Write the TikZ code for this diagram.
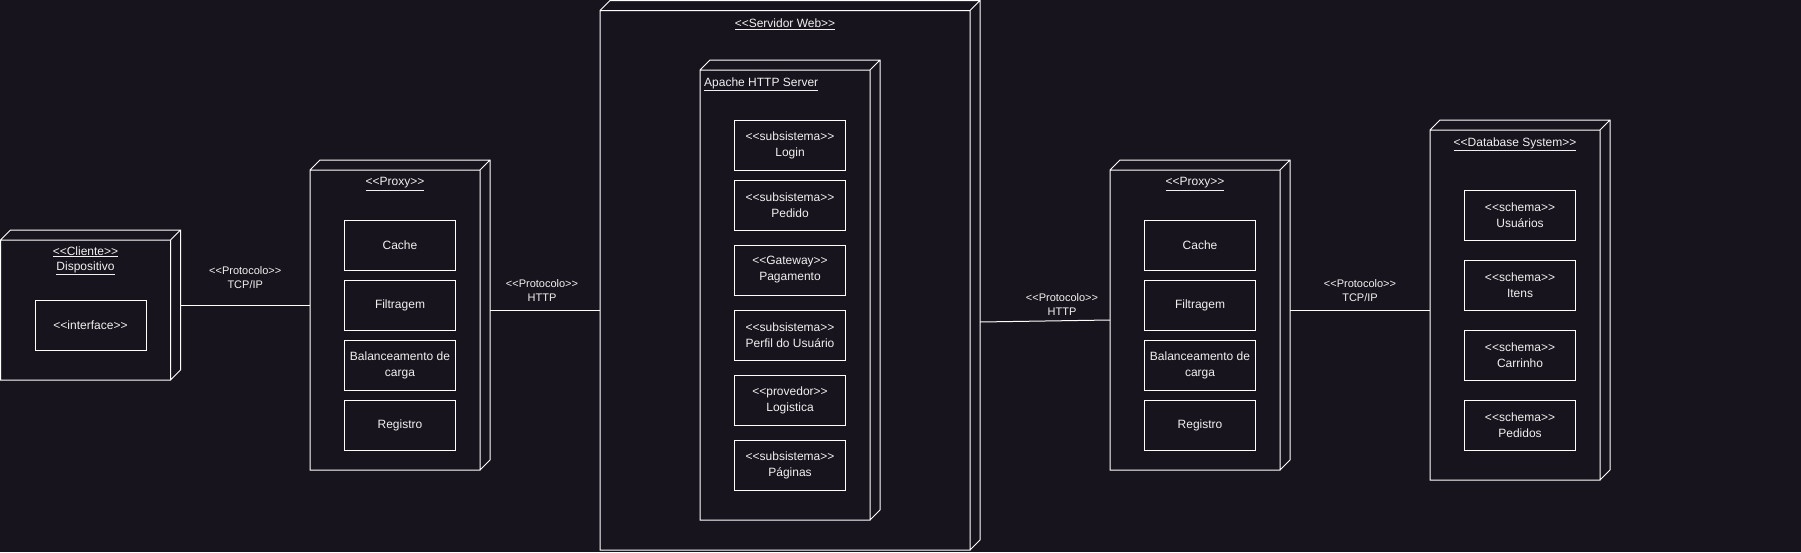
\documentclass[tikz,border=0pt]{standalone}
\usepackage{fontspec}
\setmainfont{Liberation Sans}[Ligatures=TeXOff]
\usetikzlibrary{positioning}
\definecolor{fond}{HTML}{18141D}
\definecolor{texte}{HTML}{F0F0F0}
\tikzset{
  noeud/.style={rectangle, inner sep=0pt, outer sep=0pt, anchor=north west},
  comp/.style={draw=white, line width=1pt, minimum width=111pt, minimum height=50pt, inner sep=0pt, outer sep=0pt, align=center, text=texte, font=\fontsize{12}{16}\selectfont},
  titre/.style={text=texte, inner sep=0pt, align=center, font=\fontsize{12}{15}\selectfont},
  proto/.style={text=texte, inner sep=0pt, align=center, font=\fontsize{11}{14}\selectfont},
  lien/.style={draw=white, line width=1pt}
}
% boite 3D : nom, x, y, largeur, hauteur
\newcommand{\boite}[5]{%
  \node[noeud, minimum width=#4pt, minimum height=#5pt] (#1) at (#2,#3) {};
  \draw[white, line width=1pt] ([yshift=-10pt]#1.north west) rectangle ([xshift=-10pt]#1.south east)
    ([yshift=-10pt]#1.north west) -- ([xshift=10pt]#1.north west) -- (#1.north east) -- ([yshift=10pt]#1.south east) -- ([xshift=-10pt]#1.south east)
    ([xshift=-10pt,yshift=-10pt]#1.north east) -- (#1.north east);
}

\begin{document}
\begin{tikzpicture}[x=1pt, y=-1pt]
\useasboundingbox (0,0) rectangle (1801,552);
\fill[fond] (0,0) rectangle (1801,552);

\boite{cli}{0.5}{230}{180}{150}
\boite{px1}{310}{160}{180}{310}
\boite{srv}{600}{0.5}{380}{549.5}
\boite{apa}{700}{60}{180}{460}
\boite{px2}{1110}{160}{180}{310}
\boite{db}{1430}{120}{180}{360}

% titres des noeuds
\node[titre] (tcli) at ([xshift=-5pt,yshift=-30.5pt]cli.north) {\underline{<<Cliente>>}\\\underline{Dispositivo}};
\node[titre] (tpx1) at ([xshift=-5pt,yshift=-24pt]px1.north) {\underline{<<Proxy>>}};
\node[titre] (tsrv) at ([xshift=-5pt,yshift=-24pt]srv.north) {\underline{<<Servidor Web>>}};
\node[titre, anchor=west] (tapa) at ([xshift=4pt,yshift=-24pt]apa.north west) {\underline{Apache HTTP Server}};
\node[titre] (tpx2) at ([xshift=-5pt,yshift=-24pt]px2.north) {\underline{<<Proxy>>}};
\node[titre] (tdb) at ([xshift=-5pt,yshift=-24pt]db.north) {\underline{<<Database System>>}};

\node[comp] (inter) at (90.5,325) {<<interface>>};

\node[comp] (cache1) at ([yshift=-85pt]px1.north) {Cache};
\node[comp, below=10pt of cache1] (filt1) {Filtragem};
\node[comp, below=10pt of filt1] (bal1) {Balanceamento de\\carga};
\node[comp, below=10pt of bal1] (reg1) {Registro};

\node[comp] (login) at ([yshift=-85pt]apa.north) {<<subsistema>>\\Login};
\node[comp, below=10pt of login] (pedido) {<<subsistema>>\\Pedido};
\node[comp, below=15pt of pedido] (pagto) {<<Gateway>>\\Pagamento};
\node[comp, below=15pt of pagto] (perfil) {<<subsistema>>\\Perfil do Usuário};
\node[comp, below=15pt of perfil] (logist) {<<provedor>>\\Logistica};
\node[comp, below=15pt of logist] (pagin) {<<subsistema>>\\Páginas};

\node[comp] (cache2) at ([yshift=-85pt]px2.north) {Cache};
\node[comp, below=10pt of cache2] (filt2) {Filtragem};
\node[comp, below=10pt of filt2] (bal2) {Balanceamento de\\carga};
\node[comp, below=10pt of bal2] (reg2) {Registro};

\node[comp] (usu) at ([yshift=-95pt]db.north) {<<schema>>\\Usuários};
\node[comp, below=20pt of usu] (itens) {<<schema>>\\Itens};
\node[comp, below=20pt of itens] (carr) {<<schema>>\\Carrinho};
\node[comp, below=20pt of carr] (peds) {<<schema>>\\Pedidos};

% liens entre les noeuds
\draw[lien] (cli.east) -- (cli.east -| px1.west) node[proto, midway, yshift=27pt] (p1) {<<Protocolo>>\\TCP/IP};
\draw[lien] ([yshift=5pt]px1.east) -- ([yshift=5pt]px1.east -| srv.west) node[proto, midway, xshift=-3pt, yshift=19.5pt] (p2) {<<Protocolo>>\\HTTP};
\draw[lien] ([yshift=-46.75pt]srv.east) -- ([yshift=-5pt]px2.west) node[proto, midway, xshift=17pt, yshift=16pt] (p3) {<<Protocolo>>\\HTTP};
\draw[lien] ([yshift=5pt]px2.east) -- ([yshift=5pt]px2.east -| db.west) node[proto, midway, yshift=19pt] (p4) {<<Protocolo>>\\TCP/IP};
\end{tikzpicture}
\end{document}
